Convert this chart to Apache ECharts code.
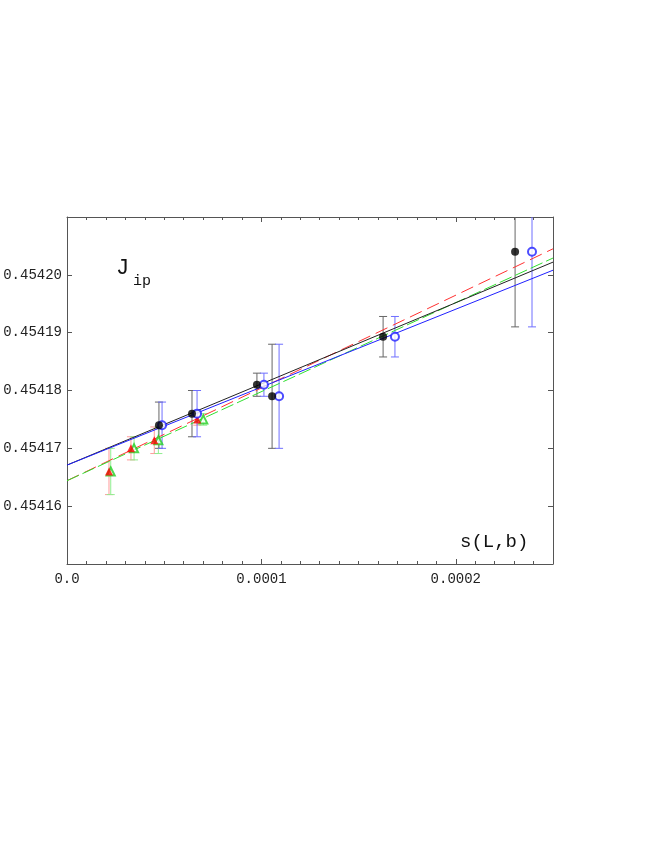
<!DOCTYPE html>
<html>
<head>
<meta charset="utf-8">
<script src="https://cdn.jsdelivr.net/npm/echarts@6/dist/echarts.min.js"></script>
<style>
html,body{margin:0;padding:0;background:#fff;}
#main{width:654px;height:846px;}
</style>
</head>
<body>
<div id="main"></div>
<script>
//数据
var xTickLabels = ['0.0', '0.0001', '0.0002'];
var yTickLabels = ['0.45416', '0.45417', '0.45418', '0.45419', '0.45420'];

var blackX = [0.0000473, 0.0000643, 0.0000977, 0.0001055, 0.0001626, 0.0002305];
var blueX = [0.0000489, 0.0000669, 0.0001013, 0.0001091, 0.0001687, 0.0002392];
var circY = [0.454174, 0.454176, 0.454181, 0.454179, 0.4541893, 0.454204];
var circErr = [0.000004, 0.000004, 0.000002, 0.000009, 0.0000035, 0.000013];

var redX = [0.0000216, 0.0000329, 0.0000449, 0.000067];
var greenX = [0.0000225, 0.0000345, 0.000047, 0.0000701];
var triY = [0.454166, 0.45417, 0.4541714, 0.454175];
var triErr = [0.000004, 0.000002, 0.0000023, 0.000001];

var fitX = [0, 0.00025];
var fitBlack = [0.4541671, 0.4542022];
var fitBlue = [0.4541671, 0.4542008];
var fitRed = [0.4541644, 0.4542045];
var fitGreen = [0.4541644, 0.4542029];

function pts(xs, ys) {
	var out = [];
	for (var i = 0; i < xs.length; i++) out.push([xs[i], ys[i]]);
	return out;
}
function bars(xs, ys, es) {
	var out = [];
	for (var i = 0; i < xs.length; i++) out.push([xs[i], ys[i] - es[i], ys[i] + es[i]]);
	return out;
}
//误差棒
function errorSeries(data, color) {
	return {
		type: 'custom',
		clip: true,
		silent: true,
		z: 2,
		data: data,
		encode: {x: 0, y: [1, 2]},
		renderItem: function (params, api) {
			var lo = api.coord([api.value(0), api.value(1)]);
			var hi = api.coord([api.value(0), api.value(2)]);
			var w = 4;
			var st = {stroke: color, lineWidth: 1};
			return {
				type: 'group',
				children: [
					{type: 'line', shape: {x1: lo[0], y1: lo[1], x2: hi[0], y2: hi[1]}, style: st},
					{type: 'line', shape: {x1: lo[0] - w, y1: lo[1], x2: lo[0] + w, y2: lo[1]}, style: st},
					{type: 'line', shape: {x1: hi[0] - w, y1: hi[1], x2: hi[0] + w, y2: hi[1]}, style: st}
				]
			};
		}
	};
}
function fitSeries(ys, color, dash) {
	return {
		type: 'line',
		data: pts(fitX, ys),
		symbol: 'none',
		silent: true,
		z: 3,
		lineStyle: {color: color, width: 1, type: dash}
	};
}

var font = 'Liberation Mono';
var axisColor = '#555';

//坐标轴
function xAxisOf(pos, showLabel) {
	return {
		type: 'value',
		position: pos,
		min: 0,
		max: 0.00025,
		interval: 0.0001,
		axisLine: {onZero: false, lineStyle: {color: axisColor}},
		axisTick: {show: true, inside: true, length: 5, lineStyle: {color: axisColor}},
		minorTick: {show: true, splitNumber: 10, length: 3, lineStyle: {color: axisColor}},
		splitLine: {show: false},
		minorSplitLine: {show: false},
		axisLabel: {
			show: showLabel,
			inside: false,
			margin: 8,
			fontFamily: font,
			fontSize: 14,
			color: '#222',
			formatter: function (v) {
				return xTickLabels[Math.round(v / 0.0001)] || '';
			}
		}
	};
}
function yAxisOf(pos, showLabel) {
	return {
		type: 'value',
		position: pos,
		min: 0.45415,
		max: 0.45421,
		interval: 0.00001,
		scale: true,
		axisLine: {onZero: false, lineStyle: {color: axisColor}},
		axisTick: {show: true, inside: true, length: 5, lineStyle: {color: axisColor}},
		splitLine: {show: false},
		axisLabel: {
			show: showLabel,
			inside: false,
			margin: 5,
			fontFamily: font,
			fontSize: 14,
			color: '#222',
			formatter: function (v) {
				var s = v.toFixed(5);
				return yTickLabels.indexOf(s) >= 0 ? s : '';
			}
		}
	};
}

var myChart = echarts.init(document.getElementById('main'));
option = {
	animation: false,
	backgroundColor: '#fff',
	grid: {left: 67, right: 101, top: 217, bottom: 282},
	xAxis: [xAxisOf('bottom', true), xAxisOf('top', false)],
	yAxis: [yAxisOf('left', true), yAxisOf('right', false)],
	graphic: [
		{type: 'text', left: 116, top: 257, style: {text: 'J', font: '22px "Liberation Mono"', fill: '#111'}},
		{type: 'text', left: 133, top: 274, style: {text: 'ip', font: '15px "Liberation Mono"', fill: '#111'}},
		{type: 'text', left: 460, top: 532, style: {text: 's(L,b)', font: '19px "Liberation Mono"', fill: '#111'}}
	],
	series: [
		fitSeries(fitRed, '#ff3030', [13, 6]),
		fitSeries(fitGreen, '#30e030', [13, 4]),
		fitSeries(fitBlack, '#222', 'solid'),
		fitSeries(fitBlue, '#2020ff', 'solid'),
		errorSeries(bars(redX, triY, triErr), '#ff9a9a'),
		errorSeries(bars(greenX, triY, triErr), '#90ee90'),
		errorSeries(bars(blackX, circY, circErr), '#666'),
		errorSeries(bars(blueX, circY, circErr), '#6f6fff'),
		{
			type: 'scatter', data: pts(greenX, triY), symbol: 'emptyTriangle', symbolSize: 8, z: 5,
			itemStyle: {color: '#20d020', borderColor: '#20d020', borderWidth: 1}
		},
		{
			type: 'scatter', data: pts(redX, triY), symbol: 'triangle', symbolSize: 8, z: 5,
			itemStyle: {color: '#ff0000'}
		},
		{
			type: 'scatter', data: pts(blueX, circY), symbol: 'emptyCircle', symbolSize: 8, z: 5,
			itemStyle: {color: '#2020ff', borderColor: '#2020ff', borderWidth: 1}
		},
		{
			type: 'scatter', data: pts(blackX, circY), symbol: 'circle', symbolSize: 8, z: 6,
			itemStyle: {color: '#000'}
		}
	]
};
myChart.setOption(option);
</script>
</body>
</html>
